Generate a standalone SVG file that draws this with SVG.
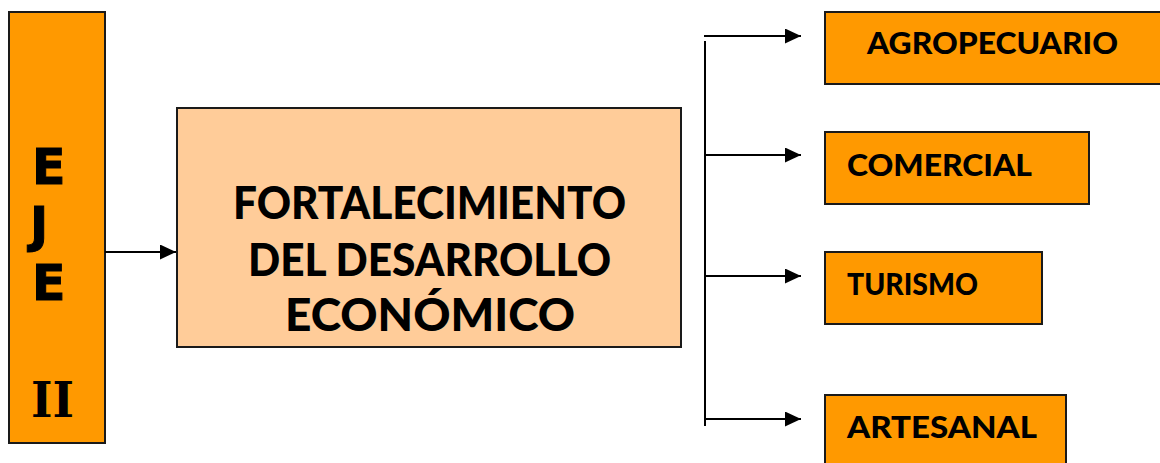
<svg xmlns="http://www.w3.org/2000/svg" width="1160" height="463" viewBox="0 0 1160 463">
<style>
.box{fill:#FF9900;stroke:#1a1a1a;stroke-width:2}
.main{fill:#FFCC99;stroke:#1a1a1a;stroke-width:2}
.t{font-family:Lato,"Liberation Sans",sans-serif;font-weight:900;fill:#000}
.e{font-family:"DejaVu Sans",Verdana,sans-serif;font-weight:bold;fill:#000}
.ii{font-family:"DejaVu Serif",serif;font-weight:bold;fill:#000}
.lbl{font-size:31px}
.mt{font-size:45px}
.eje{font-size:49px}
.c{stroke:#000;stroke-width:2;fill:none}
</style>
<defs>
<marker id="ah" markerUnits="userSpaceOnUse" markerWidth="17" markerHeight="16" refX="16" refY="7.5" orient="auto">
<path d="M0,0 L16,7.5 L0,15 Z" fill="#000"/>
</marker>
</defs>
<g id="eje">
<rect class="box" x="9" y="12" width="96" height="431"/>
<text class="e eje" x="32" y="184" stroke="#000" stroke-width="1">E</text>
<text class="e eje" x="30" y="242" stroke="#000" stroke-width="1">J</text>
<text class="e eje" x="32" y="300" stroke="#000" stroke-width="1">E</text>
<text class="ii eje" x="31" y="417" textLength="43" lengthAdjust="spacingAndGlyphs">II</text>
</g>
<g id="fortalecimiento">
<rect class="main" x="177" y="108" width="504" height="239"/>
<text class="t mt" x="233" y="219" textLength="393" lengthAdjust="spacingAndGlyphs">FORTALECIMIENTO</text>
<text class="t mt" x="248" y="276" textLength="363" lengthAdjust="spacingAndGlyphs">DEL DESARROLLO</text>
<text class="t mt" x="285" y="331" textLength="290" lengthAdjust="spacingAndGlyphs">ECONÓMICO</text>
</g>
<g id="agropecuario">
<rect class="box" x="825" y="12" width="345" height="72"/>
<text class="t lbl" x="867" y="54" textLength="251" lengthAdjust="spacingAndGlyphs">AGROPECUARIO</text>
</g>
<g id="comercial">
<rect class="box" x="825" y="132" width="264" height="72"/>
<text class="t lbl" x="847" y="176" textLength="185" lengthAdjust="spacingAndGlyphs">COMERCIAL</text>
</g>
<g id="turismo">
<rect class="box" x="825" y="252" width="217" height="72"/>
<text class="t lbl" x="847" y="295" textLength="131" lengthAdjust="spacingAndGlyphs">TURISMO</text>
</g>
<g id="artesanal">
<rect class="box" x="825" y="395" width="241" height="80"/>
<text class="t lbl" x="847" y="438" textLength="190" lengthAdjust="spacingAndGlyphs">ARTESANAL</text>
</g>
<g id="connectors">
<line class="c" x1="105" y1="252" x2="176" y2="252" marker-end="url(#ah)"/>
<line class="c" x1="705" y1="41" x2="705" y2="426"/>
<line class="c" x1="704" y1="36" x2="801" y2="36" marker-end="url(#ah)"/>
<line class="c" x1="705" y1="155" x2="801" y2="155" marker-end="url(#ah)"/>
<line class="c" x1="705" y1="276" x2="801" y2="276" marker-end="url(#ah)"/>
<line class="c" x1="705" y1="419" x2="801" y2="419" marker-end="url(#ah)"/>
</g>
</svg>
